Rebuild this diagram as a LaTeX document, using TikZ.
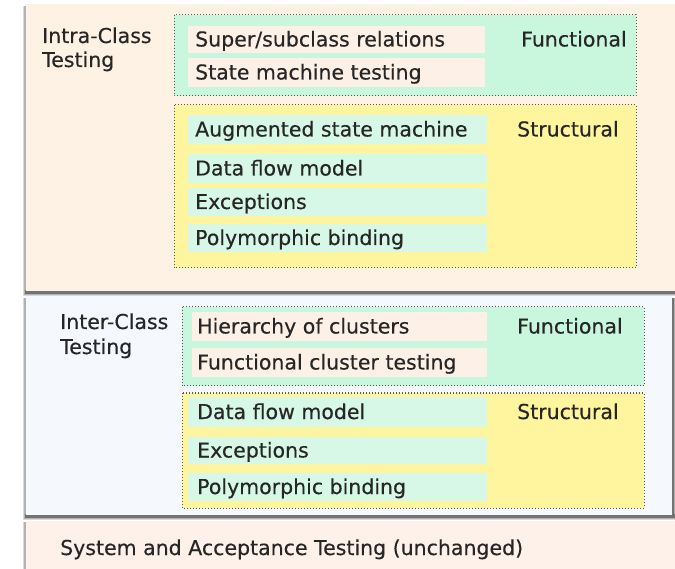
\documentclass[tikz,border=0pt]{standalone}
\usepackage{fontspec}
\setmainfont{DejaVu Sans}[BoldFont=DejaVu Sans,BoldFeatures={FakeBold=0.35}]
\begin{document}
\begin{tikzpicture}[x=1pt,y=-1pt,
  txt/.style={anchor=base west,inner sep=0pt,font=\fontsize{20.5}{24}\selectfont\bfseries,text=black!85},
  grp/.style={draw=black!65,dotted,line width=1pt},
  shadow/.style={fill=black!55}]
\definecolor{peach}{HTML}{FDF2E4}
\definecolor{bluewhite}{HTML}{F5F8FD}
\definecolor{peach3}{HTML}{FDF1EA}
\definecolor{fgreen}{HTML}{C9F7DD}
\definecolor{rowpeach}{HTML}{FDF0E6}
\definecolor{syellow}{HTML}{FFF59E}
\definecolor{rowgreen}{HTML}{D7F8E7}
\useasboundingbox (0,0) rectangle (675,569);
\fill[white] (0,0) rectangle (675,569);
% panel 1
\fill[black!15] (23,6) rectangle (676,296);
\fill[black!30] (24,6) rectangle (676,295);
\fill[shadow] (25,290) rectangle (676,294);
\fill[peach] (26,4) rectangle (676,291);
% panel 2
\fill[black!15] (23,298) rectangle (675,520);
\fill[black!30] (24,298) rectangle (675,519);
\fill[shadow] (25,514) rectangle (675,518);
\fill[black!55] (672,298) rectangle (674,517);
\fill[bluewhite] (26,296) rectangle (672,515);
% panel 3
\fill[black!15] (23,522) rectangle (676,569);
\fill[black!30] (24,522) rectangle (676,569);
\fill[peach3] (26,521) rectangle (676,569);

% ---- Intra-class
\node[txt] (intra1) at (42,43) {Intra-Class};
\node[txt] (intra2) at (42,67) {Testing};
\path[grp,fill=fgreen] (174,15) rectangle (636,96);
\fill[rowpeach] (188,26) rectangle (485,53);
\fill[rowpeach] (188,58) rectangle (485,87);
\node[txt] (a1) at (195,46.5) {Super/subclass relations};
\node[txt] (a2) at (195,79.5) {State machine testing};
\node[txt] (fun1) at (521,46.5) {Functional};
\path[grp,fill=syellow] (174,105) rectangle (636,268);
\fill[rowgreen] (188,115) rectangle (487,144);
\fill[rowgreen] (188,154) rectangle (487,183);
\fill[rowgreen] (188,188) rectangle (487,216);
\fill[rowgreen] (188,224) rectangle (487,252);
\node[txt] (b1) at (195,136.5) {Augmented state machine};
\node[txt] (b2) at (195,175.5) {Data flow model};
\node[txt] (b3) at (195,209) {Exceptions};
\node[txt] (b4) at (195,245) {Polymorphic binding};
\node[txt] (str1) at (517,136.5) {Structural};

% ---- Inter-class
\node[txt] (inter1) at (60,329) {Inter-Class};
\node[txt] (inter2) at (60,354) {Testing};
\path[grp,fill=fgreen] (182,307) rectangle (644,386);
\fill[rowpeach] (192,312) rectangle (487,341);
\fill[rowpeach] (192,348) rectangle (487,377);
\node[txt] (c1) at (197,333.5) {Hierarchy of clusters};
\node[txt] (c2) at (197,369.5) {Functional cluster testing};
\node[txt] (fun2) at (517,333.5) {Functional};
\path[grp,fill=syellow] (182,393) rectangle (644,508);
\fill[rowgreen] (188,397) rectangle (487,427);
\fill[rowgreen] (188,437) rectangle (487,464);
\fill[rowgreen] (188,473) rectangle (487,501);
\node[txt] (d1) at (197,419) {Data flow model};
\node[txt] (d2) at (197,457.5) {Exceptions};
\node[txt] (d3) at (197,494) {Polymorphic binding};
\node[txt] (str2) at (517,419) {Structural};

% ---- System
\node[txt] (sys) at (60,555) {System and Acceptance Testing (unchanged)};
\end{tikzpicture}
\end{document}
